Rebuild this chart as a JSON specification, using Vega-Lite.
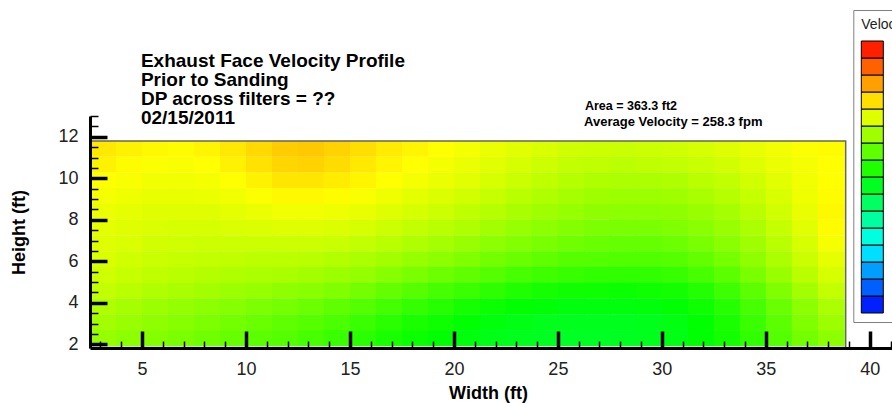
{
"$schema": "https://vega.github.io/schema/vega-lite/v6.json",
"autosize": {"type": "none"},
"padding": {"left": 90, "top": 116, "right": 0, "bottom": 55},
"width": 811,
"height": 232,
"background": "white",
"config": {"view": {"stroke": null}, "font": "Liberation Sans", "axis": {"labelOverlap": false, "grid": false, "zindex": 1}},
"datasets": {
"bands": [{"band":0.5},{"band":1.5},{"band":2.5},{"band":3.5},{"band":4.5},{"band":5.5},{"band":6.5},{"band":7.5},{"band":8.5},{"band":9.5},{"band":10.5},{"band":11.5},{"band":12.5},{"band":13.5},{"band":14.5},{"band":15.5}],
"grid": [
{"x":3.15,"y":11.42,"v":287},{"x":4.4,"y":11.42,"v":284},{"x":5.65,"y":11.42,"v":282},{"x":6.9,"y":11.42,"v":281},{"x":8.15,"y":11.42,"v":283},{"x":9.4,"y":11.42,"v":287},{"x":10.65,"y":11.42,"v":292},{"x":11.9,"y":11.42,"v":296},{"x":13.15,"y":11.42,"v":297},{"x":14.4,"y":11.42,"v":294},{"x":15.65,"y":11.42,"v":290},{"x":16.9,"y":11.42,"v":286},{"x":18.15,"y":11.42,"v":283},{"x":19.4,"y":11.42,"v":280},{"x":20.65,"y":11.42,"v":277},{"x":21.9,"y":11.42,"v":274},{"x":23.15,"y":11.42,"v":271},{"x":24.4,"y":11.42,"v":268},{"x":25.65,"y":11.42,"v":265},{"x":26.9,"y":11.42,"v":264},{"x":28.15,"y":11.42,"v":263},{"x":29.4,"y":11.42,"v":264},{"x":30.65,"y":11.42,"v":265},{"x":31.9,"y":11.42,"v":267},{"x":33.15,"y":11.42,"v":270},{"x":34.4,"y":11.42,"v":273},{"x":35.65,"y":11.42,"v":276},{"x":36.9,"y":11.42,"v":279},{"x":38.15,"y":11.42,"v":281},
{"x":3.15,"y":10.66,"v":284},{"x":4.4,"y":10.66,"v":281},{"x":5.65,"y":10.66,"v":279},{"x":6.9,"y":10.66,"v":278},{"x":8.15,"y":10.66,"v":280},{"x":9.4,"y":10.66,"v":284},{"x":10.65,"y":10.66,"v":289},{"x":11.9,"y":10.66,"v":293},{"x":13.15,"y":10.66,"v":294},{"x":14.4,"y":10.66,"v":291},{"x":15.65,"y":10.66,"v":287},{"x":16.9,"y":10.66,"v":283},{"x":18.15,"y":10.66,"v":280},{"x":19.4,"y":10.66,"v":277},{"x":20.65,"y":10.66,"v":274},{"x":21.9,"y":10.66,"v":271},{"x":23.15,"y":10.66,"v":267},{"x":24.4,"y":10.66,"v":264},{"x":25.65,"y":10.66,"v":261},{"x":26.9,"y":10.66,"v":260},{"x":28.15,"y":10.66,"v":259},{"x":29.4,"y":10.66,"v":260},{"x":30.65,"y":10.66,"v":261},{"x":31.9,"y":10.66,"v":263},{"x":33.15,"y":10.66,"v":266},{"x":34.4,"y":10.66,"v":270},{"x":35.65,"y":10.66,"v":274},{"x":36.9,"y":10.66,"v":277},{"x":38.15,"y":10.66,"v":280},
{"x":3.15,"y":9.9,"v":280},{"x":4.4,"y":9.9,"v":278},{"x":5.65,"y":9.9,"v":276},{"x":6.9,"y":9.9,"v":276},{"x":8.15,"y":9.9,"v":277},{"x":9.4,"y":9.9,"v":280},{"x":10.65,"y":9.9,"v":284},{"x":11.9,"y":9.9,"v":288},{"x":13.15,"y":9.9,"v":288},{"x":14.4,"y":9.9,"v":286},{"x":15.65,"y":9.9,"v":283},{"x":16.9,"y":9.9,"v":280},{"x":18.15,"y":9.9,"v":277},{"x":19.4,"y":9.9,"v":274},{"x":20.65,"y":9.9,"v":271},{"x":21.9,"y":9.9,"v":267},{"x":23.15,"y":9.9,"v":263},{"x":24.4,"y":9.9,"v":260},{"x":25.65,"y":9.9,"v":257},{"x":26.9,"y":9.9,"v":255},{"x":28.15,"y":9.9,"v":254},{"x":29.4,"y":9.9,"v":254},{"x":30.65,"y":9.9,"v":255},{"x":31.9,"y":9.9,"v":258},{"x":33.15,"y":9.9,"v":261},{"x":34.4,"y":9.9,"v":266},{"x":35.65,"y":9.9,"v":271},{"x":36.9,"y":9.9,"v":276},{"x":38.15,"y":9.9,"v":280},
{"x":3.15,"y":9.14,"v":277},{"x":4.4,"y":9.14,"v":275},{"x":5.65,"y":9.14,"v":273},{"x":6.9,"y":9.14,"v":273},{"x":8.15,"y":9.14,"v":274},{"x":9.4,"y":9.14,"v":276},{"x":10.65,"y":9.14,"v":279},{"x":11.9,"y":9.14,"v":282},{"x":13.15,"y":9.14,"v":282},{"x":14.4,"y":9.14,"v":281},{"x":15.65,"y":9.14,"v":278},{"x":16.9,"y":9.14,"v":275},{"x":18.15,"y":9.14,"v":272},{"x":19.4,"y":9.14,"v":269},{"x":20.65,"y":9.14,"v":266},{"x":21.9,"y":9.14,"v":262},{"x":23.15,"y":9.14,"v":258},{"x":24.4,"y":9.14,"v":255},{"x":25.65,"y":9.14,"v":252},{"x":26.9,"y":9.14,"v":250},{"x":28.15,"y":9.14,"v":249},{"x":29.4,"y":9.14,"v":249},{"x":30.65,"y":9.14,"v":250},{"x":31.9,"y":9.14,"v":253},{"x":33.15,"y":9.14,"v":257},{"x":34.4,"y":9.14,"v":262},{"x":35.65,"y":9.14,"v":268},{"x":36.9,"y":9.14,"v":275},{"x":38.15,"y":9.14,"v":281},
{"x":3.15,"y":8.38,"v":274},{"x":4.4,"y":8.38,"v":272},{"x":5.65,"y":8.38,"v":270},{"x":6.9,"y":8.38,"v":270},{"x":8.15,"y":8.38,"v":270},{"x":9.4,"y":8.38,"v":272},{"x":10.65,"y":8.38,"v":274},{"x":11.9,"y":8.38,"v":276},{"x":13.15,"y":8.38,"v":276},{"x":14.4,"y":8.38,"v":275},{"x":15.65,"y":8.38,"v":273},{"x":16.9,"y":8.38,"v":270},{"x":18.15,"y":8.38,"v":267},{"x":19.4,"y":8.38,"v":264},{"x":20.65,"y":8.38,"v":260},{"x":21.9,"y":8.38,"v":257},{"x":23.15,"y":8.38,"v":253},{"x":24.4,"y":8.38,"v":250},{"x":25.65,"y":8.38,"v":247},{"x":26.9,"y":8.38,"v":245},{"x":28.15,"y":8.38,"v":244},{"x":29.4,"y":8.38,"v":244},{"x":30.65,"y":8.38,"v":245},{"x":31.9,"y":8.38,"v":248},{"x":33.15,"y":8.38,"v":252},{"x":34.4,"y":8.38,"v":258},{"x":35.65,"y":8.38,"v":265},{"x":36.9,"y":8.38,"v":273},{"x":38.15,"y":8.38,"v":282},
{"x":3.15,"y":7.62,"v":272},{"x":4.4,"y":7.62,"v":270},{"x":5.65,"y":7.62,"v":268},{"x":6.9,"y":7.62,"v":267},{"x":8.15,"y":7.62,"v":267},{"x":9.4,"y":7.62,"v":268},{"x":10.65,"y":7.62,"v":269},{"x":11.9,"y":7.62,"v":270},{"x":13.15,"y":7.62,"v":270},{"x":14.4,"y":7.62,"v":269},{"x":15.65,"y":7.62,"v":267},{"x":16.9,"y":7.62,"v":264},{"x":18.15,"y":7.62,"v":261},{"x":19.4,"y":7.62,"v":258},{"x":20.65,"y":7.62,"v":255},{"x":21.9,"y":7.62,"v":251},{"x":23.15,"y":7.62,"v":247},{"x":24.4,"y":7.62,"v":244},{"x":25.65,"y":7.62,"v":241},{"x":26.9,"y":7.62,"v":239},{"x":28.15,"y":7.62,"v":238},{"x":29.4,"y":7.62,"v":238},{"x":30.65,"y":7.62,"v":240},{"x":31.9,"y":7.62,"v":243},{"x":33.15,"y":7.62,"v":248},{"x":34.4,"y":7.62,"v":254},{"x":35.65,"y":7.62,"v":262},{"x":36.9,"y":7.62,"v":271},{"x":38.15,"y":7.62,"v":281},
{"x":3.15,"y":6.86,"v":270},{"x":4.4,"y":6.86,"v":268},{"x":5.65,"y":6.86,"v":266},{"x":6.9,"y":6.86,"v":265},{"x":8.15,"y":6.86,"v":264},{"x":9.4,"y":6.86,"v":264},{"x":10.65,"y":6.86,"v":264},{"x":11.9,"y":6.86,"v":264},{"x":13.15,"y":6.86,"v":264},{"x":14.4,"y":6.86,"v":263},{"x":15.65,"y":6.86,"v":261},{"x":16.9,"y":6.86,"v":258},{"x":18.15,"y":6.86,"v":255},{"x":19.4,"y":6.86,"v":252},{"x":20.65,"y":6.86,"v":248},{"x":21.9,"y":6.86,"v":244},{"x":23.15,"y":6.86,"v":241},{"x":24.4,"y":6.86,"v":238},{"x":25.65,"y":6.86,"v":235},{"x":26.9,"y":6.86,"v":233},{"x":28.15,"y":6.86,"v":232},{"x":29.4,"y":6.86,"v":232},{"x":30.65,"y":6.86,"v":234},{"x":31.9,"y":6.86,"v":238},{"x":33.15,"y":6.86,"v":243},{"x":34.4,"y":6.86,"v":250},{"x":35.65,"y":6.86,"v":258},{"x":36.9,"y":6.86,"v":267},{"x":38.15,"y":6.86,"v":277},
{"x":3.15,"y":6.1,"v":268},{"x":4.4,"y":6.1,"v":265},{"x":5.65,"y":6.1,"v":263},{"x":6.9,"y":6.1,"v":262},{"x":8.15,"y":6.1,"v":261},{"x":9.4,"y":6.1,"v":260},{"x":10.65,"y":6.1,"v":259},{"x":11.9,"y":6.1,"v":259},{"x":13.15,"y":6.1,"v":258},{"x":14.4,"y":6.1,"v":256},{"x":15.65,"y":6.1,"v":254},{"x":16.9,"y":6.1,"v":251},{"x":18.15,"y":6.1,"v":247},{"x":19.4,"y":6.1,"v":244},{"x":20.65,"y":6.1,"v":240},{"x":21.9,"y":6.1,"v":236},{"x":23.15,"y":6.1,"v":233},{"x":24.4,"y":6.1,"v":230},{"x":25.65,"y":6.1,"v":227},{"x":26.9,"y":6.1,"v":226},{"x":28.15,"y":6.1,"v":225},{"x":29.4,"y":6.1,"v":225},{"x":30.65,"y":6.1,"v":227},{"x":31.9,"y":6.1,"v":231},{"x":33.15,"y":6.1,"v":237},{"x":34.4,"y":6.1,"v":245},{"x":35.65,"y":6.1,"v":254},{"x":36.9,"y":6.1,"v":263},{"x":38.15,"y":6.1,"v":272},
{"x":3.15,"y":5.34,"v":265},{"x":4.4,"y":5.34,"v":262},{"x":5.65,"y":5.34,"v":260},{"x":6.9,"y":5.34,"v":258},{"x":8.15,"y":5.34,"v":256},{"x":9.4,"y":5.34,"v":255},{"x":10.65,"y":5.34,"v":254},{"x":11.9,"y":5.34,"v":253},{"x":13.15,"y":5.34,"v":251},{"x":14.4,"y":5.34,"v":249},{"x":15.65,"y":5.34,"v":246},{"x":16.9,"y":5.34,"v":242},{"x":18.15,"y":5.34,"v":238},{"x":19.4,"y":5.34,"v":234},{"x":20.65,"y":5.34,"v":230},{"x":21.9,"y":5.34,"v":226},{"x":23.15,"y":5.34,"v":222},{"x":24.4,"y":5.34,"v":219},{"x":25.65,"y":5.34,"v":217},{"x":26.9,"y":5.34,"v":215},{"x":28.15,"y":5.34,"v":215},{"x":29.4,"y":5.34,"v":215},{"x":30.65,"y":5.34,"v":217},{"x":31.9,"y":5.34,"v":222},{"x":33.15,"y":5.34,"v":229},{"x":34.4,"y":5.34,"v":238},{"x":35.65,"y":5.34,"v":248},{"x":36.9,"y":5.34,"v":258},{"x":38.15,"y":5.34,"v":267},
{"x":3.15,"y":4.58,"v":261},{"x":4.4,"y":4.58,"v":258},{"x":5.65,"y":4.58,"v":255},{"x":6.9,"y":4.58,"v":253},{"x":8.15,"y":4.58,"v":251},{"x":9.4,"y":4.58,"v":249},{"x":10.65,"y":4.58,"v":247},{"x":11.9,"y":4.58,"v":245},{"x":13.15,"y":4.58,"v":243},{"x":14.4,"y":4.58,"v":240},{"x":15.65,"y":4.58,"v":236},{"x":16.9,"y":4.58,"v":231},{"x":18.15,"y":4.58,"v":227},{"x":19.4,"y":4.58,"v":222},{"x":20.65,"y":4.58,"v":218},{"x":21.9,"y":4.58,"v":214},{"x":23.15,"y":4.58,"v":210},{"x":24.4,"y":4.58,"v":207},{"x":25.65,"y":4.58,"v":205},{"x":26.9,"y":4.58,"v":204},{"x":28.15,"y":4.58,"v":203},{"x":29.4,"y":4.58,"v":204},{"x":30.65,"y":4.58,"v":206},{"x":31.9,"y":4.58,"v":211},{"x":33.15,"y":4.58,"v":219},{"x":34.4,"y":4.58,"v":229},{"x":35.65,"y":4.58,"v":240},{"x":36.9,"y":4.58,"v":251},{"x":38.15,"y":4.58,"v":261},
{"x":3.15,"y":3.82,"v":255},{"x":4.4,"y":3.82,"v":252},{"x":5.65,"y":3.82,"v":249},{"x":6.9,"y":3.82,"v":246},{"x":8.15,"y":3.82,"v":244},{"x":9.4,"y":3.82,"v":242},{"x":10.65,"y":3.82,"v":239},{"x":11.9,"y":3.82,"v":237},{"x":13.15,"y":3.82,"v":234},{"x":14.4,"y":3.82,"v":230},{"x":15.65,"y":3.82,"v":226},{"x":16.9,"y":3.82,"v":221},{"x":18.15,"y":3.82,"v":216},{"x":19.4,"y":3.82,"v":212},{"x":20.65,"y":3.82,"v":207},{"x":21.9,"y":3.82,"v":203},{"x":23.15,"y":3.82,"v":200},{"x":24.4,"y":3.82,"v":198},{"x":25.65,"y":3.82,"v":196},{"x":26.9,"y":3.82,"v":196},{"x":28.15,"y":3.82,"v":196},{"x":29.4,"y":3.82,"v":197},{"x":30.65,"y":3.82,"v":199},{"x":31.9,"y":3.82,"v":204},{"x":33.15,"y":3.82,"v":212},{"x":34.4,"y":3.82,"v":222},{"x":35.65,"y":3.82,"v":233},{"x":36.9,"y":3.82,"v":244},{"x":38.15,"y":3.82,"v":254},
{"x":3.15,"y":3.06,"v":251},{"x":4.4,"y":3.06,"v":248},{"x":5.65,"y":3.06,"v":245},{"x":6.9,"y":3.06,"v":242},{"x":8.15,"y":3.06,"v":239},{"x":9.4,"y":3.06,"v":236},{"x":10.65,"y":3.06,"v":233},{"x":11.9,"y":3.06,"v":230},{"x":13.15,"y":3.06,"v":227},{"x":14.4,"y":3.06,"v":223},{"x":15.65,"y":3.06,"v":218},{"x":16.9,"y":3.06,"v":213},{"x":18.15,"y":3.06,"v":208},{"x":19.4,"y":3.06,"v":204},{"x":20.65,"y":3.06,"v":200},{"x":21.9,"y":3.06,"v":197},{"x":23.15,"y":3.06,"v":194},{"x":24.4,"y":3.06,"v":192},{"x":25.65,"y":3.06,"v":191},{"x":26.9,"y":3.06,"v":191},{"x":28.15,"y":3.06,"v":191},{"x":29.4,"y":3.06,"v":192},{"x":30.65,"y":3.06,"v":195},{"x":31.9,"y":3.06,"v":200},{"x":33.15,"y":3.06,"v":208},{"x":34.4,"y":3.06,"v":218},{"x":35.65,"y":3.06,"v":229},{"x":36.9,"y":3.06,"v":240},{"x":38.15,"y":3.06,"v":249},
{"x":3.15,"y":2.3,"v":247},{"x":4.4,"y":2.3,"v":244},{"x":5.65,"y":2.3,"v":241},{"x":6.9,"y":2.3,"v":238},{"x":8.15,"y":2.3,"v":235},{"x":9.4,"y":2.3,"v":232},{"x":10.65,"y":2.3,"v":229},{"x":11.9,"y":2.3,"v":226},{"x":13.15,"y":2.3,"v":222},{"x":14.4,"y":2.3,"v":218},{"x":15.65,"y":2.3,"v":213},{"x":16.9,"y":2.3,"v":208},{"x":18.15,"y":2.3,"v":203},{"x":19.4,"y":2.3,"v":199},{"x":20.65,"y":2.3,"v":196},{"x":21.9,"y":2.3,"v":193},{"x":23.15,"y":2.3,"v":191},{"x":24.4,"y":2.3,"v":190},{"x":25.65,"y":2.3,"v":189},{"x":26.9,"y":2.3,"v":189},{"x":28.15,"y":2.3,"v":190},{"x":29.4,"y":2.3,"v":191},{"x":30.65,"y":2.3,"v":194},{"x":31.9,"y":2.3,"v":199},{"x":33.15,"y":2.3,"v":206},{"x":34.4,"y":2.3,"v":215},{"x":35.65,"y":2.3,"v":226},{"x":36.9,"y":2.3,"v":236},{"x":38.15,"y":2.3,"v":244}
]
},
"layer": [
{
"data": {"name": "bands"},
"mark": {"type": "point", "filled": true, "opacity": 1, "size": 4},
"encoding": {
"x": {"datum": 20, "type": "quantitative", "axis": null},
"y": {"datum": 7, "type": "quantitative", "axis": null},
"color": {
"field": "band", "type": "quantitative",
"scale": {"type": "quantize", "domain": [0, 16], "nice": false, "zero": false,
"range": ["#0020ff","#0060ff","#009fff","#00dfff","#00ffdf","#00ff9f","#00ff60","#00ff20","#20ff00","#60ff00","#9fff00","#dfff00","#ffdf00","#ff9f00","#ff6000","#ff2000"]},
"legend": {
"type": "gradient", "title": "Velocity", "orient": "none", "legendX": 763.3, "legendY": -106, "direction": "vertical",
"padding": 8, "fillColor": "white", "strokeColor": "#808080",
"titleFont": "Liberation Sans", "titleFontSize": 14, "titleFontWeight": "normal", "titleColor": "#222222", "titlePadding": 9, "titleLimit": 300, "titleAnchor": "start",
"gradientLength": 272, "gradientThickness": 22, "gradientStrokeColor": "black", "gradientStrokeWidth": 1,
"labelExpr": "''", "labelFontSize": 8
}
}
}
},
{
"data": {"name": "grid"},
"mark": {"type": "rect", "width": 27, "height": 16},
"encoding": {
"x": {"field": "x", "type": "quantitative",
"scale": {"domain": [2.5, 41.5], "nice": false, "zero": false},
"axis": {
"orient": "bottom",
"title": "Width (ft)", "titleFont": "Liberation Sans", "titleFontSize": 18, "titleFontWeight": "bold", "titleColor": "black",
"titleX": 398, "titleY": 50, "titleBaseline": "alphabetic", "titleAlign": "center", "titleAnchor": null,
"values": [5,10,15,20,25,30,35,40],
"labelFont": "Liberation Sans", "labelFontSize": 18, "labelColor": "#222222", "labelOverlap": false, "labelFlush": false, "labelPadding": 29,
"tickSize": -17, "tickWidth": 3.5,
"tickColor": "black", "domainColor": "black", "domainWidth": 3, "grid": false, "zindex": 1
}
},
"y": {"field": "y", "type": "quantitative",
"scale": {"domain": [1.82, 13], "nice": false, "zero": false},
"axis": {
"orient": "left",
"title": "Height (ft)", "titleFont": "Liberation Sans", "titleFontSize": 18, "titleFontWeight": "bold", "titleColor": "black",
"titleX": -71, "titleY": 116, "titleAngle": -90, "titleBaseline": "middle", "titleAlign": "center", "titleAnchor": null,
"values": [2,4,6,8,10,12],
"labelFont": "Liberation Sans", "labelFontSize": 18, "labelColor": "#222222", "labelOverlap": false, "labelFlush": false, "labelPadding": 29,
"tickSize": -17, "tickWidth": 3.5,
"tickColor": "black", "domainColor": "black", "domainWidth": 3, "grid": false, "zindex": 1
}
},
"color": {"field": "v", "type": "quantitative",
"scale": {"type": "linear", "domain": [40, 120, 200, 280, 360], "range": ["#0000ff", "#00ffff", "#00ff00", "#ffff00", "#ff0000"], "interpolate": "rgb"},
"legend": null}
}
},
{
"data": {"values": [{}]},
"mark": {"type": "rect", "filled": false, "stroke": "#666666", "strokeWidth": 1.5},
"encoding": {
"x": {"datum": 2.5, "type": "quantitative",
"axis": {"orient": "bottom", "values": [3,4,6,7,8,9,11,12,13,14,16,17,18,19,21,22,23,24,26,27,28,29,31,32,33,34,36,37,38,39,41],
"labels": false, "domain": false, "title": null, "tickSize": -7, "tickWidth": 1.5, "tickColor": "black", "grid": false, "zindex": 1}},
"x2": {"datum": 38.84},
"y": {"datum": 1.85, "type": "quantitative",
"axis": {"orient": "left", "values": [2.5,3,3.5,4.5,5,5.5,6.5,7,7.5,8.5,9,9.5,10.5,11,11.5,12.5,13],
"labels": false, "domain": false, "title": null, "tickSize": -8, "tickWidth": 1.5, "tickColor": "black", "grid": false, "zindex": 1}},
"y2": {"datum": 11.79}
}
},
{
"data": {"values": [{}]},
"mark": {"type": "text", "text": ["Exhaust Face Velocity Profile", "Prior to Sanding", "DP across filters = ??", "02/15/2011"], "align": "left", "baseline": "alphabetic", "font": "Liberation Sans", "fontSize": 19, "fontWeight": "bold", "lineHeight": 19, "color": "black"},
"encoding": {
"x": {"datum": 4.95, "type": "quantitative", "axis": null},
"y": {"datum": 15.38, "type": "quantitative", "axis": null}
}
},
{
"data": {"values": [{}]},
"mark": {"type": "text", "text": "Area = 363.3 ft2", "align": "left", "baseline": "alphabetic", "font": "Liberation Sans", "fontSize": 12.5, "fontWeight": "bold", "color": "black"},
"encoding": {
"x": {"datum": 26.3, "type": "quantitative", "axis": null},
"y": {"datum": 13.29, "type": "quantitative", "axis": null}
}
},
{
"data": {"values": [{}]},
"mark": {"type": "text", "text": "Average Velocity = 258.3 fpm", "align": "left", "baseline": "alphabetic", "font": "Liberation Sans", "fontSize": 13, "fontWeight": "bold", "color": "black"},
"encoding": {
"x": {"datum": 26.26, "type": "quantitative", "axis": null},
"y": {"datum": 12.52, "type": "quantitative", "axis": null}
}
}
],
"resolve": {"scale": {"color": "independent"}, "axis": {"x": "independent", "y": "independent"}, "legend": {"color": "independent"}}
}
